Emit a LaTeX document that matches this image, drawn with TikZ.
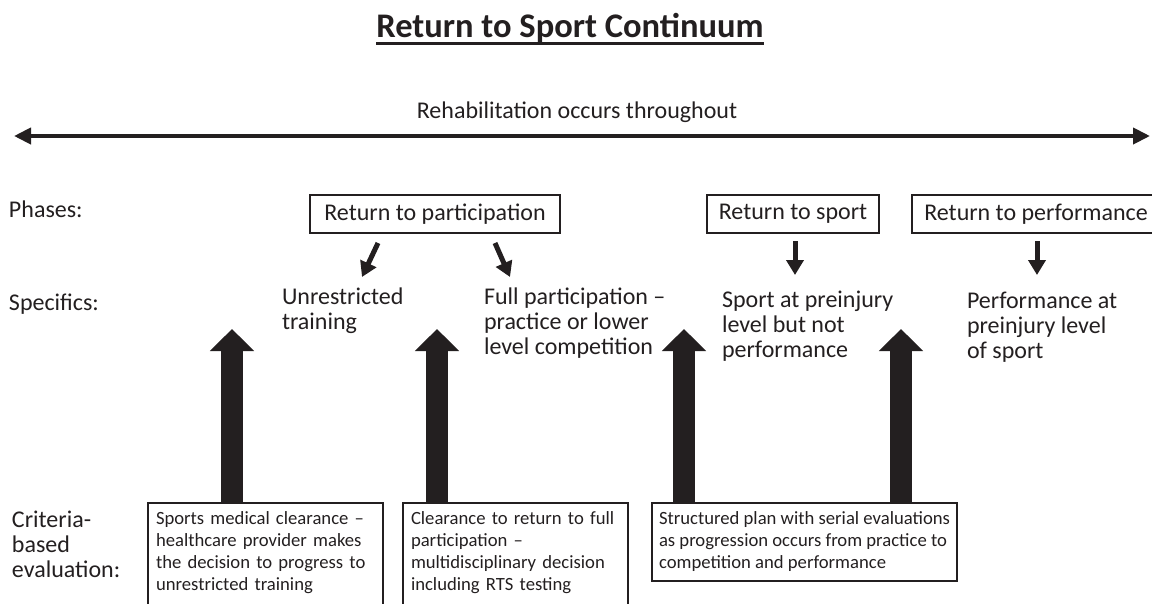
\documentclass[tikz,border=0pt]{standalone}
\usepackage{fontspec}
\setmainfont{Carlito}
\usepackage{tikz}
\usetikzlibrary{arrows.meta}
\definecolor{ink}{HTML}{231F20}

\begin{document}
\begin{tikzpicture}[x=1pt,y=1pt]
\tikzstyle{every node}+=[inner sep=0pt, outer sep=0pt, text=ink]
\tikzstyle{lbl}=[anchor=base west, align=left, font=\fontsize{24}{25}\selectfont]
\tikzstyle{phasebox}=[draw=ink, line width=2pt, minimum height=38pt, font=\fontsize{24}{25}\selectfont]
\tikzstyle{critbox}=[draw=ink, line width=2pt, anchor=north west, align=left, inner xsep=8pt, inner ysep=9pt, font=\fontsize{18.67}{22}\selectfont]
\tikzstyle{smallarrow}=[draw=ink, line width=5pt, -{Triangle[width=17pt,length=15pt]}]
\tikzstyle{bigarrow}=[draw=ink, line width=22pt, -{Triangle[width=43pt,length=22pt]}]
\useasboundingbox (0,0) rectangle (1152,-603);
\clip (0,0) rectangle (1152,-603);
% title
\node [anchor=base, font=\bfseries\fontsize{34.5}{40}\selectfont] (title) at (570,-37) {Return to Sport Continuum};
\draw [ink, line width=3pt] ([yshift=-6pt]title.base west) -- ([yshift=-6pt]title.base east);
% rehabilitation
\node [lbl, anchor=base] (rehab) at (577,-118) {Rehabilitation occurs throughout};
\coordinate (rehabL) at (14,-136);
\coordinate (rehabR) at (1150,-136);
\draw [ink, line width=4pt, {Triangle[width=16pt,length=17pt]}-{Triangle[width=16pt,length=17pt]}] (rehabL) -- (rehabR);
% row labels (base = last line)
\node [lbl] (phases) at (9,-217) {Phases:};
\node [lbl] (specifics) at (9,-310) {Specifics:};
\node [lbl] (criteria) at (12,-577) {Criteria-\\based\\evaluation:};
% phases
\node [phasebox, minimum width=250pt] (rtp) at (435,-214) {Return to participation};
\node [phasebox, minimum width=172pt] (rts) at (793,-214) {Return to sport};
\node [phasebox, minimum width=248pt] (rtperf) at (1036,-214) {Return to performance};
% specifics
\node [lbl] (unrestr) at (282,-329) {Unrestricted\\training};
\node [lbl] (fullpart) at (484,-354) {Full participation –\\practice or lower\\level competition};
\node [lbl] (sportlvl) at (722,-357) {Sport at preinjury\\level but not\\performance};
\node [lbl] (perflvl) at (967,-358) {Performance at\\preinjury level\\of sport};
\coordinate (rtpL) at (378,-243);
\coordinate (unrestrTop) at (362,-277);
\coordinate (rtpR) at (495,-243);
\coordinate (fullpartTop) at (510,-277);
\coordinate (sportlvlTop) at (795,-275);
\coordinate (perflvlTop) at (1037,-275);
\draw [smallarrow] (rtpL) -- (unrestrTop);
\draw [smallarrow] (rtpR) -- (fullpartTop);
\draw [smallarrow] (rts.south -| sportlvlTop) ++(0,-8) -- (sportlvlTop);
\draw [smallarrow] (rtperf.south -| perflvlTop) ++(0,-8) -- (perflvlTop);
% criteria (boxes 1 and 2 run past the bottom edge)
\node [critbox, text width=219pt] (box1) at (148,-503) {Sports medical clearance –\\healthcare provider makes\\the decision to progress to\\unrestricted training\\\mbox{}};
\node [critbox, text width=209pt] (box2) at (403,-503) {Clearance to return to full\\participation –\\multidisciplinary decision\\including RTS testing\\\mbox{}};
\node [critbox, inner xsep=7pt] (box3) at (652,-503) {Structured plan with serial evaluations\\as progression occurs from practice to\\competition and performance};
\coordinate (tipA) at (232,-329);
\coordinate (tipB) at (437,-329);
\coordinate (tipC) at (684,-329);
\coordinate (tipD) at (901,-329);
\draw [bigarrow] (box1.north -| tipA) -- (tipA);
\draw [bigarrow] (box2.north -| tipB) -- (tipB);
\draw [bigarrow] (box3.north -| tipC) -- (tipC);
\draw [bigarrow] (box3.north -| tipD) -- (tipD);
\end{tikzpicture}
\end{document}
